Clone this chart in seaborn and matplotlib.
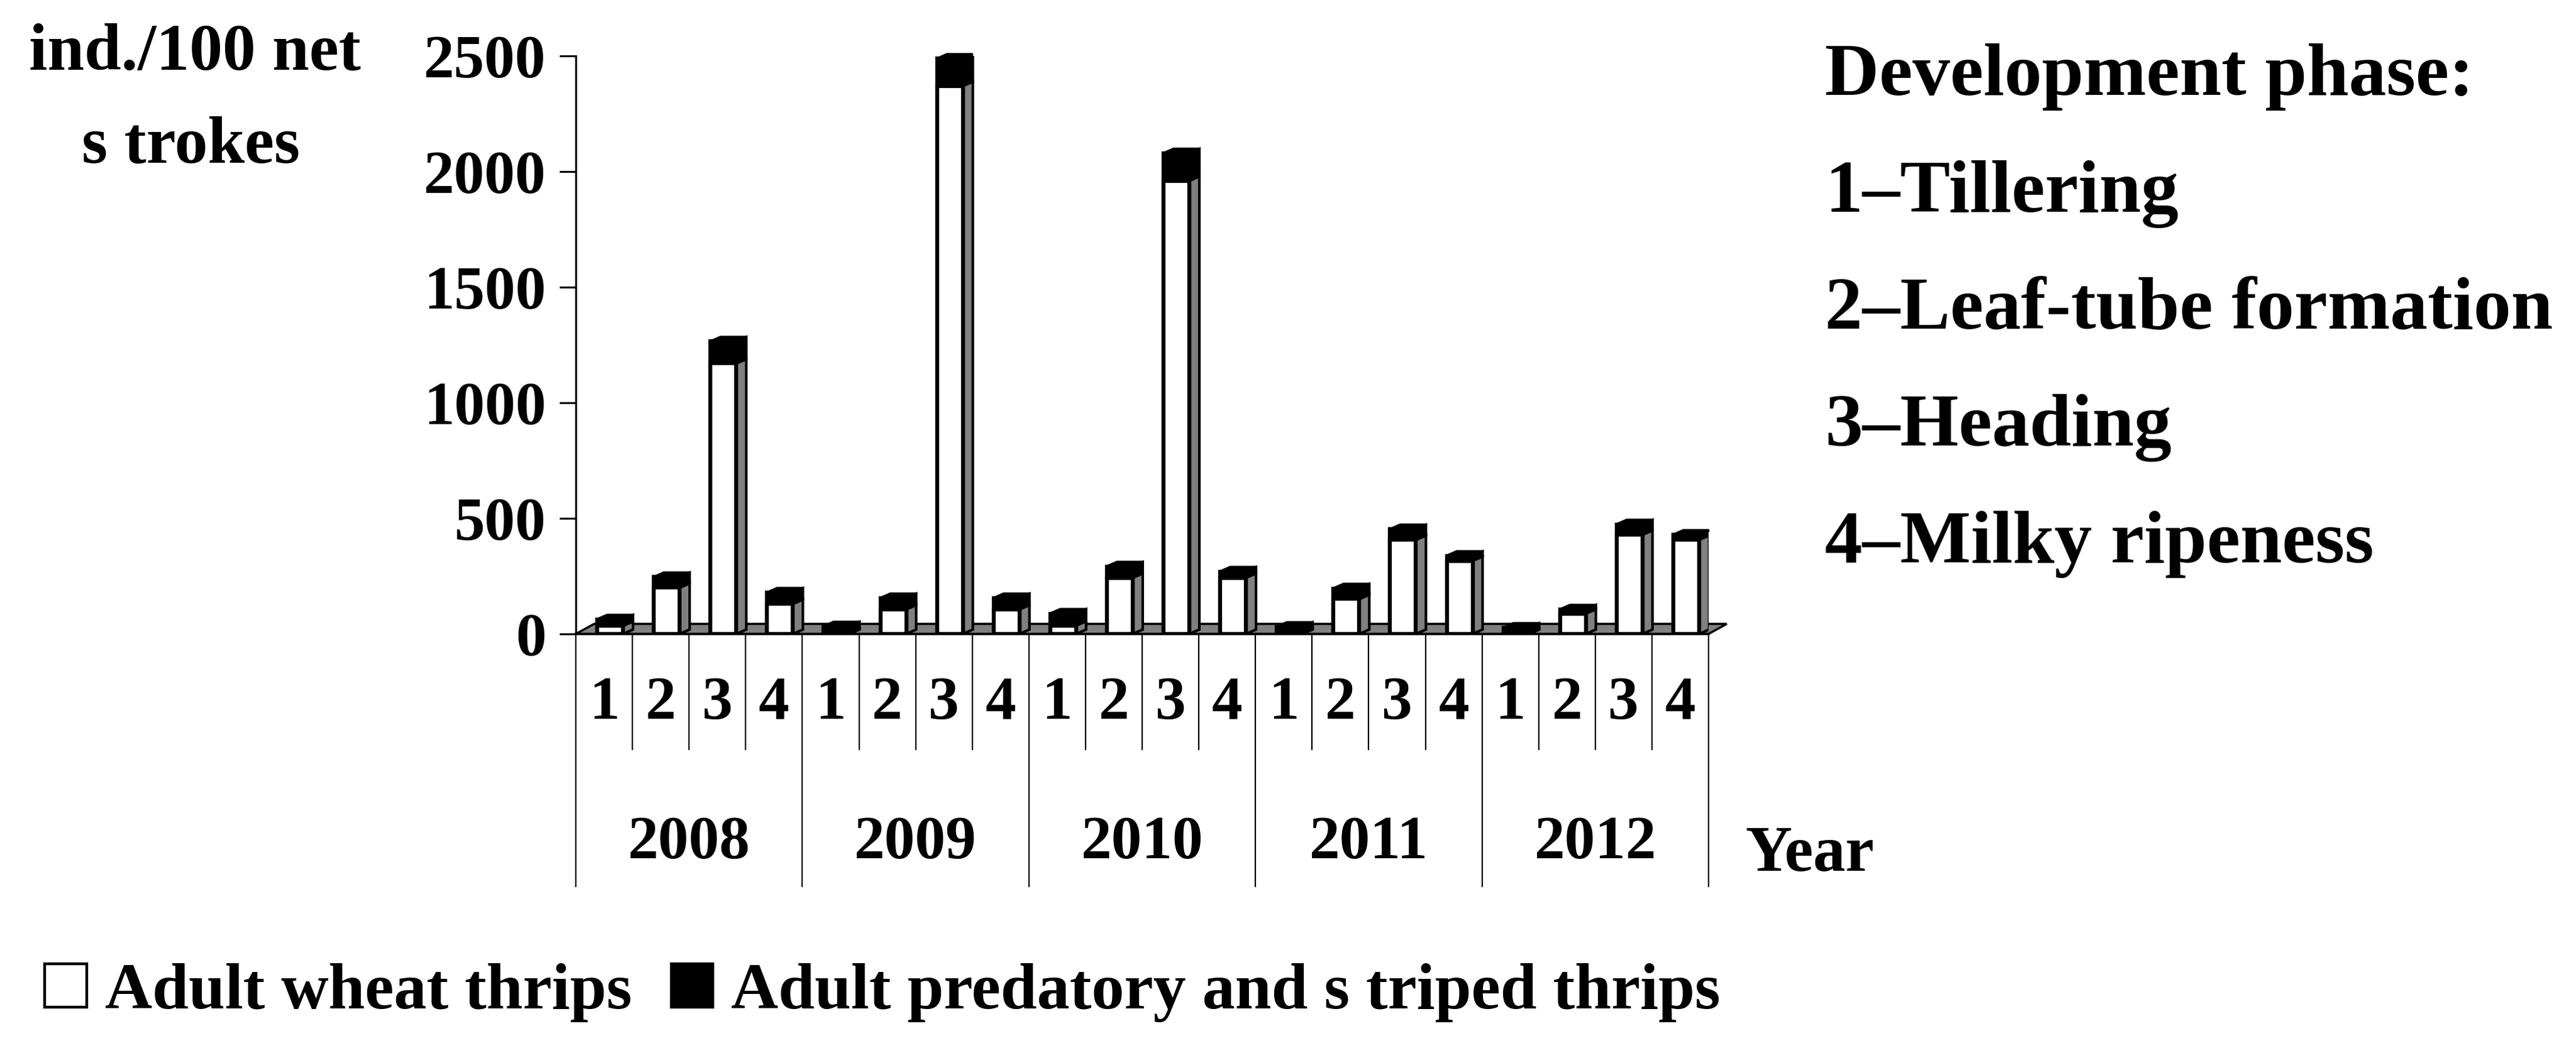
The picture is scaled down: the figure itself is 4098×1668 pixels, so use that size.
import numpy as np
import pandas as pd
import matplotlib
matplotlib.use("Agg")
from matplotlib import pyplot as plt
from matplotlib.patches import Polygon, Patch
import matplotlib.transforms as mtransforms
import seaborn as sns

# values (ind./100 net strokes)
years = ["2008", "2009", "2010", "2011", "2012"]
phases = ["1", "2", "3", "4"]
wheat_thrips = [35, 200, 1170, 130, 3, 106, 2370, 106, 36, 243, 1960, 243, 3, 151, 407, 316, 2, 88, 429, 407]
predatory_thrips = [28, 46, 95, 49, 30, 49, 118, 49, 52, 49, 119, 27, 28, 46, 46, 22, 25, 18, 45, 22]
yticks = [0, 500, 1000, 1500, 2000, 2500]
legend_labels = ["Adult wheat thrips", "Adult predatory and s triped thrips"]
ylabel_lines = ["ind./100 net", "s trokes"]
phase_notes = ["Development phase:", "1\u2013Tillering", "2\u2013Leaf-tube formation",
               "3\u2013Heading", "4\u2013Milky ripeness"]

sns.set_theme(style="white")
plt.rcParams['font.family'] = ['Liberation Serif', 'DejaVu Serif']
plt.rcParams['font.weight'] = 'bold'
plt.rcParams['text.color'] = 'black'
plt.rcParams['axes.labelcolor'] = 'black'
plt.rcParams['xtick.color'] = 'black'
plt.rcParams['ytick.color'] = 'black'

df = pd.DataFrame({
    "cat": [y + "-" + p for y in years for p in phases],
    "wheat": wheat_thrips,
    "pred": predatory_thrips,
})
df["total"] = df["wheat"] + df["pred"]

# layout in pixels of the 4098x1668 output
W, H = 4098, 1668
left_px, right_px, zero_px, top_px = 916, 2718, 1009, 89
fig = plt.figure(figsize=(W / 100, H / 100), dpi=100)
ax = fig.add_axes([left_px / W, 1 - zero_px / H, (right_px - left_px) / W, (zero_px - top_px) / H])
ax_h = zero_px - top_px

bar_w = 0.455
shift = 0.105
sns.barplot(data=df, x="cat", y="total", color="black", saturation=1, width=bar_w,
            edgecolor="black", linewidth=4.5, ax=ax, zorder=3)
sns.barplot(data=df, x="cat", y="wheat", color="white", saturation=1, width=bar_w,
            edgecolor="black", linewidth=4.5, ax=ax, zorder=4)
ax.set_xlim(-0.5, len(df) - 0.5)
ax.set_ylim(0, 2500)

bars = list(ax.patches)
for p in bars:
    p.set_x(p.get_x() + shift)

# fake 3D depth like the spreadsheet chart
px_x = (right_px - left_px) / len(df)
px_y = ax_h / 2500
dxb, dyb = 16 / px_x, 7 / px_y
dxf, dyf = 29 / px_x, 16 / px_y

floor = Polygon([(-0.5, 0), (len(df) - 0.5, 0), (len(df) - 0.5 + dxf, dyf), (-0.5 + dxf, dyf)],
                closed=True, facecolor="#808080", edgecolor="black", linewidth=2.5,
                zorder=1, clip_on=False)
ax.add_patch(floor)

n = len(df)
for i in range(n):
    front = bars[i]
    xl = front.get_x()
    xr = xl + front.get_width()
    w_val = df["wheat"][i]
    t_val = df["total"][i]
    side_low = Polygon([(xr, 0), (xr + dxb, dyb), (xr + dxb, w_val + dyb), (xr, w_val)],
                       closed=True, facecolor="#808080", edgecolor="black", linewidth=3, zorder=2)
    side_up = Polygon([(xr, w_val), (xr + dxb, w_val + dyb), (xr + dxb, t_val + dyb), (xr, t_val)],
                      closed=True, facecolor="black", edgecolor="black", linewidth=3, zorder=2)
    top = Polygon([(xl, t_val), (xl + dxb, t_val + dyb), (xr + dxb, t_val + dyb), (xr, t_val)],
                  closed=True, facecolor="black", edgecolor="black", linewidth=3, zorder=2,
                  clip_on=False)
    ax.add_patch(side_low)
    ax.add_patch(side_up)
    ax.add_patch(top)

# axes
sns.despine(ax=ax)
ax.spines['left'].set_color("black")
ax.spines['left'].set_linewidth(2.2)
ax.spines['bottom'].set_color("black")
ax.spines['bottom'].set_linewidth(2.6)
ax.spines['bottom'].set_zorder(6)
ax.set_yticks(yticks)
ax.set_yticklabels([str(v) for v in yticks], fontsize=70, fontweight="bold", color="black")
ax.tick_params(axis="y", left=True, length=19, width=2.2, pad=15, direction="out", colors="black")
ax.set_xticks([])
ax.set_xlabel("")
ax.set_ylabel("")

# category table under the axis
trans = mtransforms.blended_transform_factory(ax.transData, ax.transAxes)
for k in range(n + 1):
    xk = k - 0.5
    low = -402 / ax_h if k % 4 == 0 else -184 / ax_h
    ax.plot([xk, xk], [0, low], transform=trans, color="black", lw=1.6, clip_on=False)
for i in range(n):
    ax.text(i, -135 / ax_h, phases[i % 4], transform=trans, ha="center", va="baseline",
            fontsize=70, fontweight="bold", color="black")
for j, yr in enumerate(years):
    ax.text(4 * j + 1.5, -357 / ax_h, yr, transform=trans, ha="center", va="baseline",
            fontsize=70, fontweight="bold", color="black")
ax.text(1 + 58 / (right_px - left_px), -377 / ax_h, "Year", transform=ax.transAxes,
        ha="left", va="baseline", fontsize=74, fontweight="bold", color="black")

# y label in two lines at the top left
fig.text(310 / W, 1 - 110 / H, ylabel_lines[0], ha="center", va="baseline", fontsize=76,
         fontweight="bold", color="black")
fig.text(304 / W, 1 - 258 / H, ylabel_lines[1], ha="center", va="baseline", fontsize=76,
         fontweight="bold", color="black")

# phase notes on the right
for i, note in enumerate(phase_notes):
    fig.text(2903 / W, 1 - (151 + 186 * i) / H, note, ha="left", va="baseline",
             fontsize=86, fontweight="bold", color="black")

handles = [Patch(facecolor="white", edgecolor="black", linewidth=3.2),
           Patch(facecolor="black", edgecolor="black", linewidth=3.2)]
leg = fig.legend(handles, legend_labels, loc="lower left", bbox_to_anchor=(71 / W, 41 / H),
                 ncol=2, frameon=False, prop=dict(family="Liberation Serif", weight="bold", size=75),
                 handlelength=0.64, handleheight=0.64, handletextpad=0.28, columnspacing=0.6,
                 borderpad=0, borderaxespad=0)
for t in leg.get_texts():
    t.set_color("black")

fig.savefig("out.png", dpi=100)
